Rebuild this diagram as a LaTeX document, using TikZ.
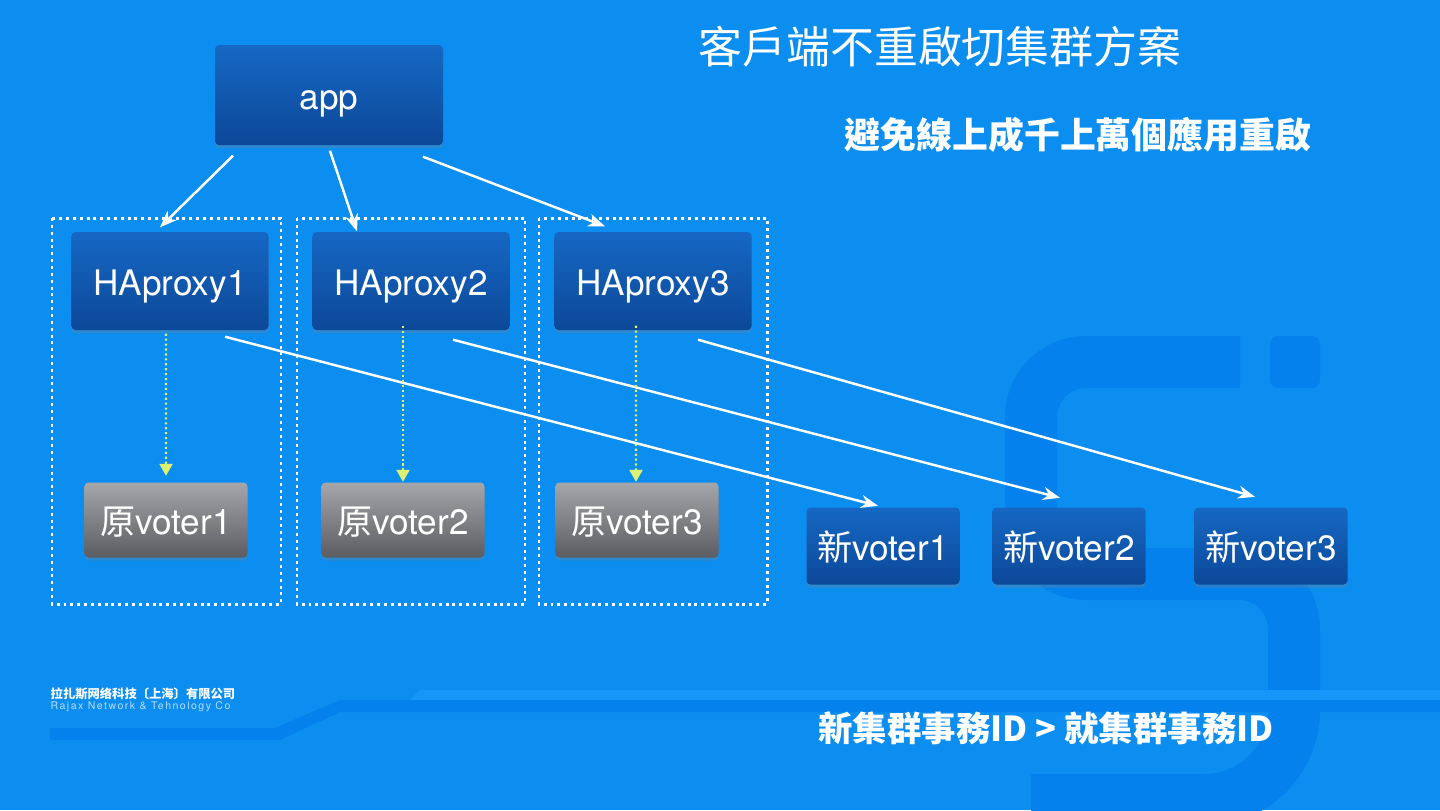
\documentclass[tikz,border=0pt]{standalone}
\usepackage{fontspec}
\setmainfont{TeX Gyre Heros}
\newfontfamily\cjk{Noto Sans CJK TC}
\newfontfamily\cjksc{Noto Sans CJK SC}
\newfontfamily\logolatin[LetterSpace=14]{TeX Gyre Heros}
\usetikzlibrary{arrows.meta,shadows}
\definecolor{slidebg}{RGB}{12,141,240}
\definecolor{logoshade}{RGB}{4,129,236}
\definecolor{logohi}{RGB}{22,150,248}
\definecolor{boxtop}{RGB}{22,104,196}
\definecolor{boxbot}{RGB}{12,72,152}
\definecolor{oldtop}{RGB}{165,166,170}
\definecolor{oldbot}{RGB}{92,93,98}
\definecolor{hint}{RGB}{222,240,112}
\newcommand{\boxfont}{\fontsize{10}{12}\selectfont}

\begin{document}
\begin{tikzpicture}[y=-1cm,
  card/.style={rounded corners=0.04cm, inner sep=0pt, text=white, font=\boxfont,
    text height=1.6ex, text depth=0pt,
    drop shadow={opacity=0.3, shadow xshift=0cm, shadow yshift=-0.03cm}},
  bluebox/.style={card, top color=boxtop, bottom color=boxbot},
  graybox/.style={card, top color=oldtop, bottom color=oldbot},
  group/.style={draw=white, line width=0.85pt, dash pattern=on 0.85pt off 1.1pt},
  link/.style={draw=white, line width=0.7pt, -{Stealth[length=0.17cm, width=0.13cm]}},
  route/.style={draw=hint, line width=0.6pt, dash pattern=on 0.6pt off 0.8pt,
    -{Triangle[length=0.12cm, width=0.13cm]}}]
  \useasboundingbox (0,0) rectangle (14.4,8.1);
  \clip (0,0) rectangle (14.4,8.1);
  % Background and watermark
  \fill[slidebg] (0,0) rectangle (14.4,8.1);
  \draw[logoshade, line width=0.52cm, rounded corners=0.55cm]
    (12.40,3.62) -- (10.31,3.62) -- (10.31,5.74) -- (12.94,5.74)
    [rounded corners=0.9cm] -- (12.94,8.00) -- (10.31,8.00);
  \fill[logoshade, rounded corners=0.08cm] (12.70,3.36) rectangle (13.20,3.88);
  \fill[logohi] (4.20,6.90) -- (14.4,6.90) -- (14.4,7.00) -- (4.10,7.00) -- cycle;
  \fill[logoshade] (3.40,7.00) -- (14.4,7.00) -- (14.4,7.12) -- (3.40,7.12)
    -- (2.80,7.40) -- (0.50,7.40) -- (0.50,7.28) -- (2.75,7.28) -- cycle;
  % Headings
  \node[font=\cjk\fontsize{12.5}{14}\selectfont, text=white] (title) at (9.40,0.47) {客戶端不重啟切集群方案};
  \node[font=\cjk\bfseries\fontsize{10.2}{12}\selectfont, text=white] (goal) at (10.78,1.35) {避免線上成千上萬個應用重啟};
  \node[font=\cjk\bfseries\fontsize{9.8}{12}\selectfont, text=white] (rule) at (10.46,7.28) {新集群事務ID > 就集群事務ID};
  % Company logo
  \node[anchor=west, inner sep=0pt, font=\cjksc\bfseries\fontsize{3.5}{4}\selectfont, text=white] (logo) at (0.50,6.94) {拉扎斯网络科技〔上海〕有限公司};
  \node[anchor=west, inner sep=0pt, font=\logolatin\fontsize{3}{4}\selectfont, text=white!70!slidebg] (logoen) at (0.50,7.07) {Rajax Network \& Tehnology Co};
  % Dotted groups
  \draw[group] (0.52,2.18) rectangle (2.81,6.04);
  \draw[group] (2.97,2.18) rectangle (5.25,6.04);
  \draw[group] (5.39,2.18) rectangle (7.67,6.04);
  % Boxes
  \node[bluebox, minimum width=2.28cm, minimum height=1.00cm] (app) at (3.29,0.95) {app};
  \node[bluebox, minimum width=1.97cm, minimum height=0.98cm] (ha1) at (1.70,2.81) {HAproxy1};
  \node[bluebox, minimum width=1.97cm, minimum height=0.98cm] (ha2) at (4.11,2.81) {HAproxy2};
  \node[bluebox, minimum width=1.97cm, minimum height=0.98cm] (ha3) at (6.53,2.81) {HAproxy3};
  \node[graybox, minimum width=1.63cm, minimum height=0.75cm] (ov1) at (1.66,5.20) {{\cjk 原}voter1};
  \node[graybox, minimum width=1.63cm, minimum height=0.75cm] (ov2) at (4.03,5.20) {{\cjk 原}voter2};
  \node[graybox, minimum width=1.63cm, minimum height=0.75cm] (ov3) at (6.37,5.20) {{\cjk 原}voter3};
  \node[bluebox, minimum width=1.53cm, minimum height=0.77cm] (nv1) at (8.83,5.46) {{\cjk 新}voter1};
  \node[bluebox, minimum width=1.53cm, minimum height=0.77cm] (nv2) at (10.69,5.46) {{\cjk 新}voter2};
  \node[bluebox, minimum width=1.53cm, minimum height=0.77cm] (nv3) at (12.71,5.46) {{\cjk 新}voter3};
  % app to proxies
  \draw[link] ([xshift=-0.96cm, yshift=-0.10cm]app.south) -- ([xshift=-0.10cm, yshift=0.04cm]ha1.north);
  \draw[link] ([xshift=0.01cm, yshift=-0.05cm]app.south) -- ([xshift=-0.54cm]ha2.north);
  \draw[link] ([xshift=0.94cm, yshift=-0.11cm]app.south) -- ([xshift=-0.48cm, yshift=0.05cm]ha3.north);
  % proxies to new voters
  \draw[link] ([xshift=0.55cm, yshift=-0.06cm]ha1.south) -- ([xshift=-0.05cm, yshift=0.01cm]nv1.north);
  \draw[link] ([xshift=0.42cm, yshift=-0.09cm]ha2.south) -- ([xshift=-0.09cm, yshift=0.09cm]nv2.north);
  \draw[link] ([xshift=0.45cm, yshift=-0.09cm]ha3.south) -- ([xshift=-0.16cm, yshift=0.10cm]nv3.north);
  % proxies to old voters
  \draw[route] ([xshift=-0.04cm, yshift=-0.03cm]ha1.south) -- ([yshift=0.06cm]ov1.north);
  \draw[route] ([xshift=-0.08cm, yshift=0.05cm]ha2.south) -- (ov2.north);
  \draw[route] ([xshift=-0.17cm, yshift=0.05cm]ha3.south) -- ([xshift=-0.01cm]ov3.north);
\end{tikzpicture}
\end{document}
